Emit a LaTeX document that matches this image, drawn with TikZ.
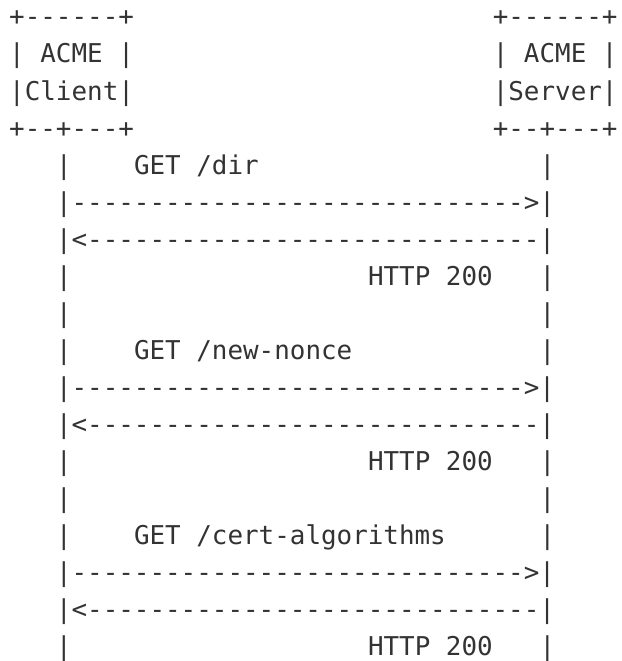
\documentclass[tikz,border=0pt]{standalone}
\usepackage{fontspec}
\setmonofont{DejaVu Sans Mono}
\definecolor{ink}{HTML}{333333}
\tikzset{
  txt/.style={inner sep=0pt, outer sep=0pt, anchor=base west, text=ink,
    font=\ttfamily\fontsize{25.9}{25.9}\selectfont},
  cell/.style 2 args={at={({9.2+15.6*(#1)},{26+37*(#2)})}}
}
\begin{document}
\begin{tikzpicture}[x=1pt, y=-1pt]
\useasboundingbox (0,0) rectangle (621,661);
% boxes
\node[txt, cell={0}{0}] (cTop) {+------+};
\node[txt, cell={31}{0}] (sTop) {+------+};
\node[txt, cell={0}{1}] (cL1) {| ACME |};
\node[txt, cell={31}{1}] (sL1) {| ACME |};
\node[txt, cell={0}{2}] (cL2) {|Client|};
\node[txt, cell={31}{2}] (sL2) {|Server|};
\node[txt, cell={0}{3}] (cBot) {+--+---+};
\node[txt, cell={31}{3}] (sBot) {+--+---+};
% exchange 1
\node[txt, cell={3}{4}] (l4) {|};
\node[txt, cell={8}{4}] (m4) {GET /dir};
\node[txt, cell={34}{4}] (r4) {|};
\node[txt, cell={3}{5}] (a5) {|----------------------------->|};
\node[txt, cell={3}{6}] (a6) {|<-----------------------------|};
\node[txt, cell={3}{7}] (l7) {|};
\node[txt, cell={23}{7}] (m7) {HTTP 200};
\node[txt, cell={34}{7}] (r7) {|};
\node[txt, cell={3}{8}] (l8) {|};
\node[txt, cell={34}{8}] (r8) {|};
% exchange 2
\node[txt, cell={3}{9}] (l9) {|};
\node[txt, cell={8}{9}] (m9) {GET /new-nonce};
\node[txt, cell={34}{9}] (r9) {|};
\node[txt, cell={3}{10}] (a10) {|----------------------------->|};
\node[txt, cell={3}{11}] (a11) {|<-----------------------------|};
\node[txt, cell={3}{12}] (l12) {|};
\node[txt, cell={23}{12}] (m12) {HTTP 200};
\node[txt, cell={34}{12}] (r12) {|};
\node[txt, cell={3}{13}] (l13) {|};
\node[txt, cell={34}{13}] (r13) {|};
% exchange 3
\node[txt, cell={3}{14}] (l14) {|};
\node[txt, cell={8}{14}] (m14) {GET /cert-algorithms};
\node[txt, cell={34}{14}] (r14) {|};
\node[txt, cell={3}{15}] (a15) {|----------------------------->|};
\node[txt, cell={3}{16}] (a16) {|<-----------------------------|};
\node[txt, cell={3}{17}] (l17) {|};
\node[txt, cell={23}{17}] (m17) {HTTP 200};
\node[txt, cell={34}{17}] (r17) {|};
\end{tikzpicture}
\end{document}
